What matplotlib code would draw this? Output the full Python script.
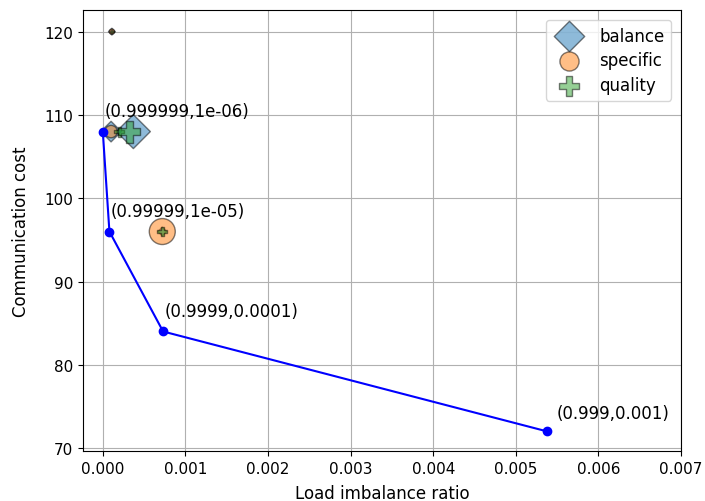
import matplotlib
matplotlib.use("Agg")
import matplotlib.pyplot as plt

# pareto front (load imbalance, communication cost) and their parameter labels
front_x = [0.0, 0.00008, 0.00073, 0.00538]
front_y = [108, 96, 84, 72]
front_labels = ["(0.999999,1e-06)", "(0.99999,1e-05)", "(0.9999,0.0001)", "(0.999,0.001)"]

balance_x = [0.00011, 0.0001, 0.00037, 0.00072]
balance_y = [120, 108, 108, 96]
balance_s = [12, 110, 300, 20]

specific_x = [0.00011, 0.0001, 0.00072]
specific_y = [120, 108, 96]
specific_s = [14, 80, 350]

quality_x = [0.00011, 0.0002, 0.00032, 0.00072]
quality_y = [120, 108, 108, 96]
quality_s = [6, 50, 250, 50]


def main():
    fig = plt.figure(figsize=(7.05, 5.02), dpi=100)
    ax = fig.add_axes([0.1177, 0.0996, 0.8483, 0.8785])

    ax.plot(front_x, front_y, "o-", color="blue", markersize=6, zorder=3)
    offsets = [(1, 11), (1, 11), (1, 11), (7, 10)]
    for x, y, lab, off in zip(front_x, front_y, front_labels, offsets):
        ax.annotate(lab, (x, y), xytext=off, textcoords="offset points", fontsize=12)

    ax.scatter(balance_x, balance_y, s=balance_s, marker="D", alpha=0.5,
               edgecolors="black", label="balance", zorder=2)
    ax.scatter(specific_x, specific_y, s=specific_s, marker="o", alpha=0.5,
               edgecolors="black", label="specific", zorder=2)
    ax.scatter(quality_x, quality_y, s=quality_s, marker="P", alpha=0.5,
               edgecolors="black", label="quality", zorder=2)

    ax.set_xlim(-0.00024, 0.007)
    ax.set_ylim(69.65, 122.6)
    ax.grid(True)
    ax.tick_params(labelsize=11)
    ax.set_xlabel("Load imbalance ratio", fontsize=12, labelpad=6)
    ax.set_ylabel("Communication cost", fontsize=12, labelpad=10)
    leg = ax.legend(loc="upper right", fontsize=12, labelspacing=0.4,
                    borderaxespad=0.6)
    for h, s in zip(leg.legend_handles, [240, 190, 190]):
        h.set_sizes([s])
    fig.savefig("out.png", dpi=100)


if __name__ == "__main__":
    main()
